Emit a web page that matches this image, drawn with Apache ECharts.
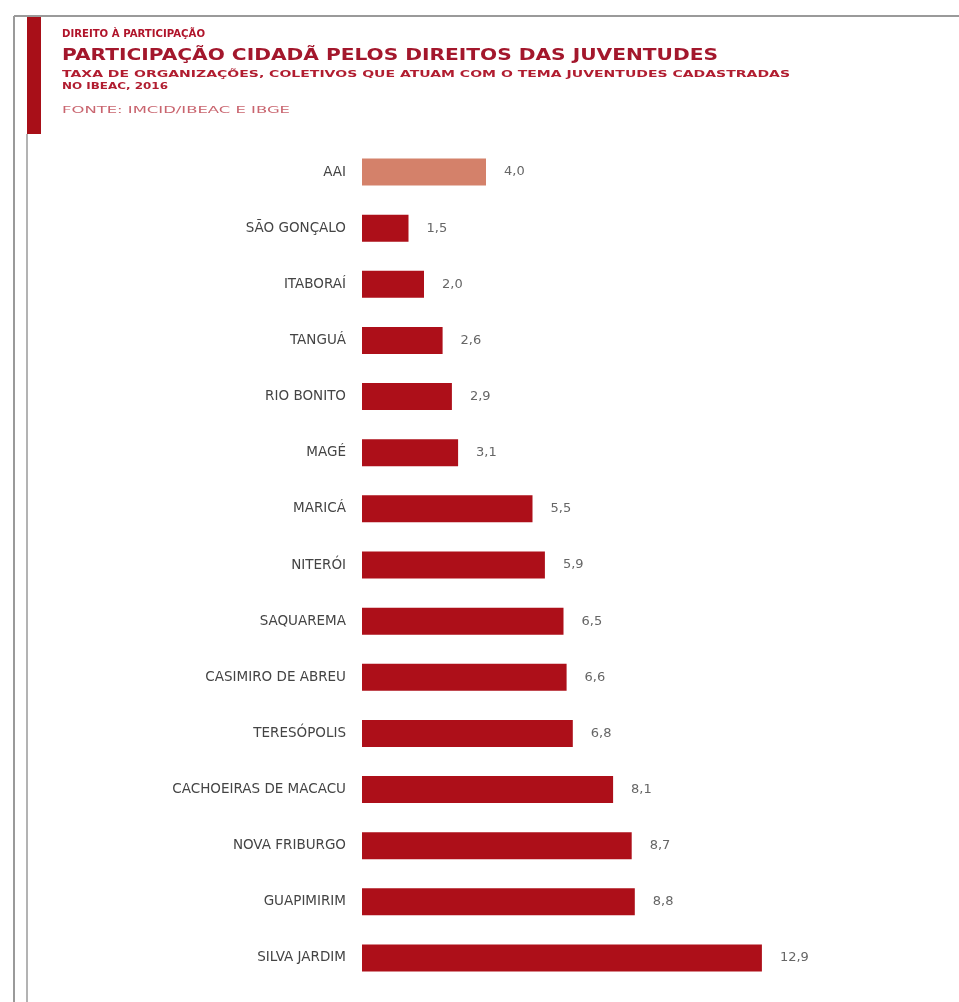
<!DOCTYPE html>
<html>
<head>
<meta charset="utf-8">
<script src="https://cdn.jsdelivr.net/npm/echarts@6/dist/echarts.min.js"></script>
<style>
  html, body { margin: 0; padding: 0; background: #fff; }
  #chart { width: 959px; height: 1002px; }
</style>
</head>
<body>
<div id="chart"></div>
<script>
// Municipalities, top to bottom
const municipios = [
  'AAI', 'SÃO GONÇALO', 'ITABORAÍ', 'TANGUÁ', 'RIO BONITO', 'MAGÉ',
  'MARICÁ', 'NITERÓI', 'SAQUAREMA', 'CASIMIRO DE ABREU', 'TERESÓPOLIS',
  'CACHOEIRAS DE MACACU', 'NOVA FRIBURGO', 'GUAPIMIRIM', 'SILVA JARDIM'
];
// Rate of registered youth organizations/collectives
const taxas = [4.0, 1.5, 2.0, 2.6, 2.9, 3.1, 5.5, 5.9, 6.5, 6.6, 6.8, 8.1, 8.7, 8.8, 12.9];
// The regional aggregate is highlighted
const destaque = 'AAI';

const cabecalho = 'DIREITO À PARTICIPAÇÃO';
const titulo = 'PARTICIPAÇÃO CIDADÃ PELOS DIREITOS DAS JUVENTUDES';
const subtitulo = ['TAXA DE ORGANIZAÇÕES, COLETIVOS QUE ATUAM COM O TEMA JUVENTUDES CADASTRADAS', 'NO IBEAC, 2016'];
const fonte = 'FONTE: IMCID/IBEAC E IBGE';

const COR_BARRA = '#ad0f19';
const COR_DESTAQUE = '#d4816a';
const FAMILIA = '"DejaVu Sans", sans-serif';

// Horizontal stretch so header lines span their intended widths
const ctx = document.createElement('canvas').getContext('2d');
function stretch(text, font, width) {
  ctx.font = font;
  return width / ctx.measureText(text).width;
}
function headerText(text, x, y, size, weight, color, width) {
  const font = weight + ' ' + size + 'px ' + FAMILIA;
  return {
    type: 'text', x: x, y: y, originX: 0, originY: 0,
    scaleX: stretch(text, font, width),
    style: {
      text: text, fill: color, font: font,
      textVerticalAlign: 'middle', textAlign: 'left'
    }
  };
}

const chart = echarts.init(document.getElementById('chart'), null, { renderer: 'canvas' });

chart.setOption({
  backgroundColor: '#ffffff',
  animation: false,
  grid: { left: 362, top: 144, width: 434, height: 842, containLabel: false },
  xAxis: {
    type: 'value', min: 0, max: 14, show: false
  },
  yAxis: {
    type: 'category',
    data: municipios,
    inverse: true,
    axisLine: { show: false },
    axisTick: { show: false },
    splitLine: { show: false },
    axisLabel: {
      margin: 16,
      color: '#444',
      fontFamily: FAMILIA,
      fontSize: 13.5
    }
  },
  series: [{
    type: 'bar',
    barWidth: 27,
    data: taxas.map((v, i) => ({
      value: v,
      itemStyle: { color: municipios[i] === destaque ? COR_DESTAQUE : COR_BARRA }
    })),
    label: {
      show: true,
      position: 'right',
      distance: 18,
      color: '#666',
      fontFamily: FAMILIA,
      fontSize: 13,
      formatter: p => p.value.toFixed(1).replace('.', ',')
    }
  }],
  graphic: [
    // page frame
    { type: 'line', shape: { x1: 14, y1: 16, x2: 959, y2: 16 }, style: { stroke: '#9a9a9a', lineWidth: 2 } },
    { type: 'line', shape: { x1: 14, y1: 16, x2: 14, y2: 1002 }, style: { stroke: '#9a9a9a', lineWidth: 2 } },
    { type: 'line', shape: { x1: 27, y1: 134, x2: 27, y2: 1002 }, style: { stroke: '#9a9a9a', lineWidth: 1.5 } },
    { type: 'rect', shape: { x: 27, y: 17, width: 14, height: 117 }, style: { fill: '#a80f18' } },
    // header block
    headerText(cabecalho, 62, 34, 11, 'bold', '#b0142a', 143),
    headerText(titulo, 62, 56, 16, 'bold', '#a3172c', 656),
    headerText(subtitulo[0], 62, 75, 8.5, 'bold', '#b11d30', 728),
    headerText(subtitulo[1], 62, 87, 8.5, 'bold', '#b11d30', 106),
    headerText(fonte, 62, 111, 8, 'normal', '#c9656f', 228)
  ]
});
</script>
</body>
</html>
